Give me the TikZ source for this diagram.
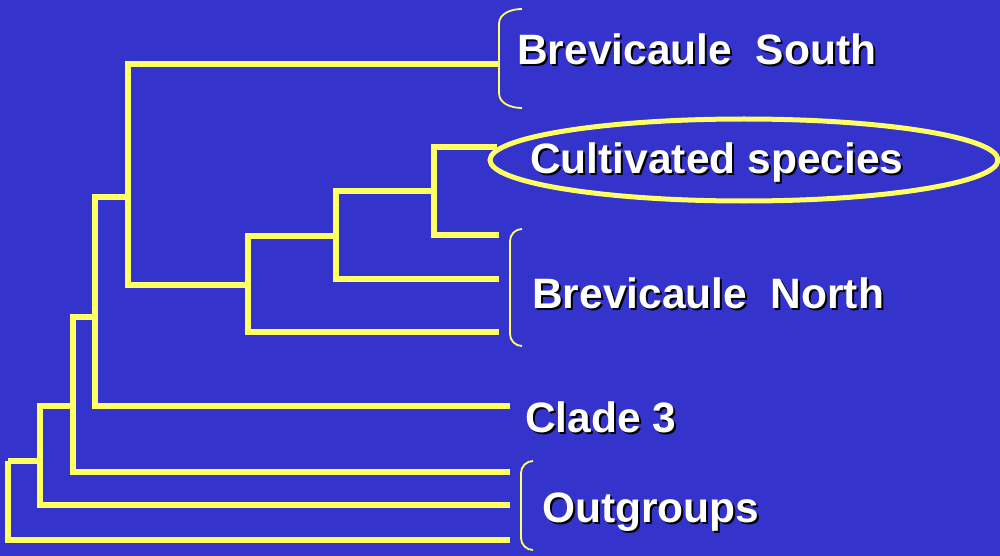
\documentclass[tikz,border=0pt]{standalone}
\usepackage{fontspec}
\setmainfont{Liberation Sans}
\usetikzlibrary{shapes.geometric}
\definecolor{bgblue}{RGB}{52,52,204}
\definecolor{lineyellow}{RGB}{255,255,102}
\newcommand{\shtext}[1]{\makebox[0pt][l]{\hspace{2pt}\raisebox{-2pt}{\color{black}#1}}#1}
\tikzset{
  branch/.style={draw=lineyellow, line width=5.5pt, line join=miter},
  brace/.style={draw=lineyellow, line width=1.8pt},
  lbl/.style={anchor=base west, inner sep=0pt, text=white, font=\fontsize{42.5}{50}\selectfont\bfseries},
}
\begin{document}
\begin{tikzpicture}[x=1pt, y=-1pt]
\fill[bgblue] (0,0) rectangle (1000,556);
\useasboundingbox (0,0) rectangle (1000,556);
% internal nodes
\coordinate (root) at (8,461);
\coordinate (A) at (40,461);
\coordinate (B) at (73,406);
\coordinate (C) at (95,317);
\coordinate (D) at (128,197);
\coordinate (E) at (248,285);
\coordinate (F) at (336,236);
\coordinate (G) at (434,191);
% leaves
\coordinate (S) at (498,64);
\coordinate (Cu) at (497,147);
\coordinate (N1) at (499,235);
\coordinate (N2) at (499,279);
\coordinate (N3) at (499,332);
\coordinate (C3) at (510,406);
\coordinate (O1) at (510,472);
\coordinate (O2) at (510,505);
\coordinate (O3) at (510,540);
% edges
\draw[branch] (root) |- (A);
\draw[branch] (root) |- (O3);
\draw[branch] (A) |- (B);
\draw[branch] (A) |- (O2);
\draw[branch] (B) |- (C);
\draw[branch] (B) |- (O1);
\draw[branch] (C) |- (D);
\draw[branch] (C) |- (C3);
\draw[branch] (D) |- (S);
\draw[branch] (D) |- (E);
\draw[branch] (E) |- (F);
\draw[branch] (E) |- (N3);
\draw[branch] (F) |- (G);
\draw[branch] (F) |- (N2);
\draw[branch] (G) |- (Cu);
\draw[branch] (G) |- (N1);
% braces
\draw[brace] (522,9) to[out=180,in=90] (499,24) -- (499,93) to[out=-90,in=180] (522,108);
\draw[brace] (522,229) to[out=180,in=90] (510,241) -- (510,334) to[out=-90,in=180] (522,346);
\draw[brace] (533,461) to[out=180,in=90] (521,473) -- (521,538) to[out=-90,in=180] (533,550);
% ellipse
\node[draw=lineyellow, line width=5pt, ellipse, minimum width=508pt, minimum height=82pt, inner sep=0pt] (cult) at (744,160) {};
% labels
\node[lbl] (tS) at (517,65) {\shtext{Brevicaule\ \ South}};
\node[lbl] (tC) at (530,173) {\shtext{Cultivated species}};
\node[lbl] (tN) at (532,308) {\shtext{Brevicaule\ \ North}};
\node[lbl] (t3) at (525,432) {\shtext{Clade 3}};
\node[lbl] (tO) at (542,522) {\shtext{Outgroups}};
\end{tikzpicture}
\end{document}
